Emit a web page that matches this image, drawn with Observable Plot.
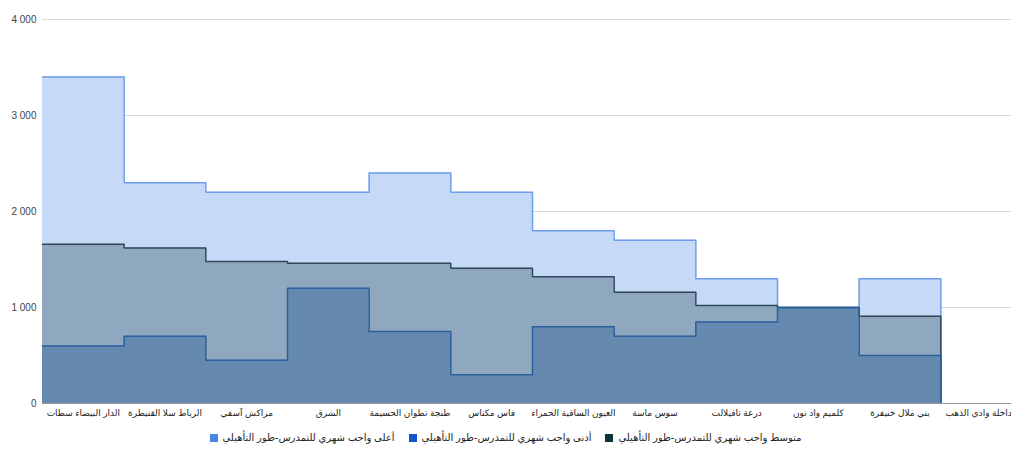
<!DOCTYPE html>
<html>
<head>
<meta charset="utf-8">
<script src="https://cdn.jsdelivr.net/npm/d3@7"></script>
<script src="https://cdn.jsdelivr.net/npm/@observablehq/plot@0.6"></script>
<style>
  html, body { margin: 0; padding: 0; background: #fff; width: 1011px; height: 450px; overflow: hidden; }
  body { font-family: "Liberation Sans", "DejaVu Sans", Arial, sans-serif; }
  #legend { display: flex; justify-content: center; gap: 14px; font-size: 10px; color: #222; height: 25px; align-items: center; }
  .item { display: flex; align-items: center; gap: 5px; direction: ltr; }
  .sw { width: 8px; height: 8px; display: inline-block; }
  .txt { direction: rtl; }
</style>
</head>
<body>
<div id="chart"></div>
<div id="legend"></div>
<script>
const categories = [
  "الدار البيضاء سطات",
  "الرباط سلا القنيطرة",
  "مراكش آسفي",
  "الشرق",
  "طنجة تطوان الحسيمة",
  "فاس مكناس",
  "العيون الساقية الحمراء",
  "سوس ماسة",
  "درعة تافيلالت",
  "كلميم واد نون",
  "بني ملال خنيفرة",
  "الداخلة وادي الذهب"
];
const maxFee = [3400, 2300, 2200, 2200, 2400, 2200, 1800, 1700, 1300, 1000, 1300, null];
const minFee = [600, 700, 450, 1200, 750, 300, 800, 700, 850, 1000, 500, null];
const avgFee = [1660, 1620, 1480, 1460, 1460, 1410, 1320, 1160, 1020, 1000, 910, null];
const yTicks = [0, 1000, 2000, 3000, 4000];

const seriesNames = {
  max: "أعلى واجب شهري للتمدرس-طور التأهيلي",
  min: "أدنى واجب شهري للتمدرس-طور التأهيلي",
  avg: "متوسط واجب شهري للتمدرس-طور التأهيلي"
};

// step rows: each category covers a full band [i, i+1]
function stepRows(values) {
  const rows = [];
  values.forEach((v, i) => {
    if (v == null) { rows.push({x: i, y: null}); return; }
    rows.push({x: i, y: v});
    rows.push({x: i + 1, y: v});
  });
  return rows;
}
function lineRows(values) {
  const rows = [];
  values.forEach((v, i) => {
    if (v == null) { rows.push({x: i, y: null}); return; }
    rows.push({x: i, y: v});
    rows.push({x: i + 1, y: v});
    if (i + 1 < values.length && values[i + 1] == null) rows.push({x: i + 1, y: 0});
  });
  return rows;
}

const fmt = d => d3.format(",")(d).replace(/,/g, "\u00a0");
const def = d => d.y != null;

const chart = Plot.plot({
  width: 1011,
  height: 425,
  marginTop: 19,
  marginBottom: 22,
  marginLeft: 42,
  marginRight: -11,
  style: {fontFamily: "'Liberation Sans', 'DejaVu Sans', Arial, sans-serif", background: "#fff", overflow: "visible"},
  x: {type: "linear", domain: [0, categories.length]},
  y: {domain: [0, 4000]},
  marks: [
    Plot.gridY(yTicks, {stroke: "#d9d9d9", strokeOpacity: 1}),
    Plot.area(stepRows(maxFee), {x1: "x", y1: 0, y2: "y", fill: "#c6d9f7", defined: def}),
    Plot.area(stepRows(avgFee), {x1: "x", y1: 0, y2: "y", fill: "#8fa8bf", defined: def}),
    Plot.area(stepRows(minFee), {x1: "x", y1: 0, y2: "y", fill: "#668aaf", defined: def}),
    Plot.lineY(lineRows(maxFee), {x: "x", y: "y", stroke: "#6d9eeb", strokeWidth: 1.5, defined: def}),
    Plot.lineY(lineRows(avgFee), {x: "x", y: "y", stroke: "#2c4a58", strokeWidth: 1.5, defined: def}),
    Plot.lineY(lineRows(minFee), {x: "x", y: "y", stroke: "#2a5f9e", strokeWidth: 1.5, defined: def}),
    Plot.ruleY([0], {stroke: "#999"}),
    Plot.axisY({ticks: yTicks, tickFormat: fmt, tickSize: 0, tickPadding: 6, fontSize: 10, color: "#444", label: null}),
    Plot.axisX({
      ticks: d3.range(categories.length).map(i => i + 0.5),
      tickFormat: d => categories[Math.floor(d)],
      tickSize: 0, tickPadding: 6, fontSize: 9, color: "#222", label: null
    })
  ]
});
document.getElementById("chart").appendChild(chart);

const legendItems = [
  {name: seriesNames.max, color: "#4a86e8"},
  {name: seriesNames.min, color: "#1155cc"},
  {name: seriesNames.avg, color: "#0c343d"}
];
const lg = document.getElementById("legend");
legendItems.forEach(it => {
  const el = document.createElement("div");
  el.className = "item";
  el.innerHTML = `<span class="sw" style="background:${it.color}"></span><span class="txt">${it.name}</span>`;
  lg.appendChild(el);
});
</script>
</body>
</html>
